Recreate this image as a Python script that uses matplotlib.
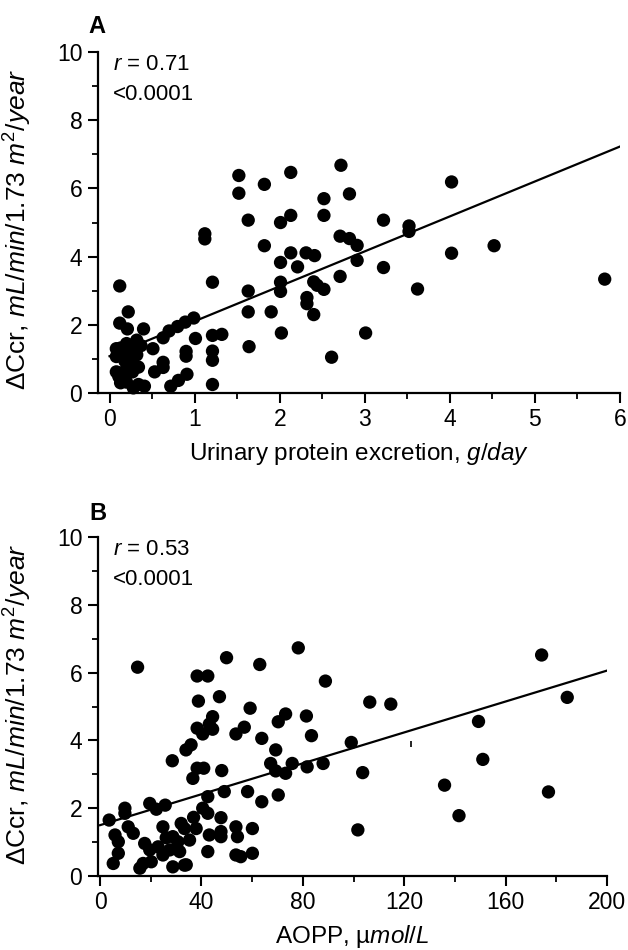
import numpy as np
import matplotlib.pyplot as plt
from matplotlib.ticker import MultipleLocator

plt.rcParams['font.family'] = ['Liberation Sans', 'DejaVu Sans']
plt.rcParams['mathtext.fontset'] = 'custom'
plt.rcParams['mathtext.rm'] = 'Liberation Sans'
plt.rcParams['mathtext.it'] = 'Liberation Sans:italic'

# =============================================================================
# DONNÉES - panneau A (protéinurie, g/jour)
# =============================================================================
prot_x = [1.52, 1.52, 1.82, 2.13, 2.72, 4.02,
          1.63, 2.01, 2.13, 2.52, 2.52, 2.82, 3.22,
          1.12, 1.12, 1.82, 2.71, 2.82, 2.91, 3.52, 3.52, 4.02, 4.52,
          2.01, 2.13, 2.31, 2.41, 2.21, 2.91, 3.22, 2.71,
          1.21, 0.12, 2.01, 2.40, 2.44, 2.52,
          1.63, 2.01, 3.62, 5.82,
          2.32, 2.32, 1.63, 1.90, 2.40,
          0.22, 0.12, 0.21, 0.40,
          2.02, 3.01, 1.64, 2.61,
          1.21, 1.32, 1.01, 0.63,
          0.70, 0.80, 0.89, 0.99,
          1.21, 1.21, 1.21,
          0.90, 0.90, 0.91, 0.81, 0.72, 0.63, 0.63, 0.53, 0.41, 0.34,
          0.08, 0.13, 0.08, 0.18, 0.27, 0.32, 0.08, 0.11, 0.13, 0.20,
          0.27, 0.23, 0.34, 0.18, 0.27, 0.37, 0.32, 0.51, 0.28, 0.20, 0.15]
prot_y = [6.38, 5.86, 6.12, 6.47, 6.68, 6.19,
          5.07, 5.00, 5.21, 5.70, 5.21, 5.84, 5.07,
          4.67, 4.52, 4.32, 4.60, 4.53, 4.33, 4.90, 4.74, 4.10, 4.32,
          3.83, 4.11, 4.11, 4.03, 3.70, 3.89, 3.68, 3.42,
          3.25, 3.14, 3.25, 3.26, 3.16, 3.04,
          2.99, 2.98, 3.05, 3.34,
          2.80, 2.62, 2.38, 2.38, 2.30,
          2.38, 2.05, 1.88, 1.88,
          1.76, 1.76, 1.36, 1.05,
          1.69, 1.72, 1.60, 1.62,
          1.82, 1.95, 2.08, 2.20,
          1.23, 0.96, 0.25,
          1.22, 1.08, 0.55, 0.37, 0.20, 0.90, 0.75, 0.62, 0.20, 0.25,
          1.30, 1.32, 1.07, 1.20, 1.26, 1.12, 0.62, 0.48, 0.30, 0.32,
          0.62, 0.85, 0.76, 0.94, 1.03, 1.39, 1.55, 1.30, 0.15, 1.45, 0.60]
fit_a = (1.08, 1.025)   # ordonnée, pente

# =============================================================================
# DONNÉES - panneau B (AOPP, µmol/L)
# =============================================================================
aopp_x = [3.6, 5.9, 7.2, 7.2, 5.2, 9.8, 9.8, 11.1, 13.1,
          14.8,
          15.7, 17.0, 20.2, 17.6, 19.6, 22.9, 26.1, 28.7, 30.7, 27.5, 24.8,
          19.6, 22.2, 25.7, 24.8,
          28.7, 33.3,
          28.5,
          32.0, 33.3, 35.3, 31.4, 34.0,
          36.9, 40.5, 42.5, 42.5,
          37.9, 43.1, 47.7, 47.7, 53.6, 54.2, 53.6, 55.5, 60.1, 60.1, 42.5,
          47.7, 49.0, 58.2, 63.8, 70.3,
          33.9, 35.9, 38.3, 40.9, 36.6, 48.0,
          38.3, 42.5, 47.1, 38.8, 49.9, 63.0, 78.2,
          59.2, 44.4, 43.1, 38.3, 40.5, 44.4,
          53.6, 56.9, 63.8, 70.3, 73.2,
          69.3, 67.3, 69.3, 73.2, 75.8,
          81.4, 88.9, 83.4, 81.7, 88.0, 99.1, 101.7, 103.6, 106.4, 114.7,
          135.9, 141.6, 149.3, 151.0, 174.2, 176.9, 184.3]
aopp_y = [1.65, 1.21, 1.01, 0.67, 0.37, 2.00, 1.85, 1.45, 1.26,
          6.16,
          0.23, 0.37, 0.42, 0.96, 0.77, 0.86, 1.13, 1.16, 1.01, 0.77, 0.62,
          2.14, 1.97, 2.09, 1.45,
          0.27, 0.32,
          3.40,
          1.55, 1.40, 1.06, 0.72, 0.33,
          1.73, 2.00, 1.85, 2.34,
          1.40, 1.21, 1.31, 1.16, 1.45, 1.16, 0.62, 0.57, 1.40, 0.67, 0.72,
          1.72, 2.49, 2.49, 2.19, 2.39,
          3.72, 3.87, 3.18, 3.18, 2.88, 3.11,
          5.90, 5.90, 5.29, 5.16, 6.44, 6.24, 6.73,
          4.95, 4.70, 4.48, 4.36, 4.19, 4.33,
          4.19, 4.39, 4.06, 4.55, 4.78,
          3.72, 3.32, 3.10, 3.03, 3.32,
          4.72, 5.75, 4.14, 3.22, 3.32, 3.94, 1.36, 3.05, 5.13, 5.07,
          2.68, 1.78, 4.56, 3.44, 6.52, 2.48, 5.27]
fit_b = (1.50, 0.0228)
speck_b = (122.8, 3.9)   # petite tache présente sur la figure d'origine

# =============================================================================
# FIGURE
# =============================================================================
fig = plt.figure(figsize=(6.28, 9.5), dpi=100)
ax_a = fig.add_axes([0.1553, 0.5863, 0.832, 0.3589])
ax_b = fig.add_axes([0.1553, 0.0779, 0.8113, 0.3568])

ylab = r'$\Delta$Ccr, $\mathit{mL/min/1.73\ m^2/year}$'


def style(ax):
    for side in ['top', 'right']:
        ax.spines[side].set_visible(False)
    for side in ['left', 'bottom']:
        ax.spines[side].set_linewidth(1.6)
    ax.tick_params(which='major', direction='out', length=7, width=1.5, labelsize=16.5, pad=4)
    ax.tick_params(which='minor', direction='out', length=4, width=1.3)
    ax.set_ylim(0, 10)
    ax.yaxis.set_major_locator(MultipleLocator(2))
    ax.yaxis.set_minor_locator(MultipleLocator(1))


# --- A ---
style(ax_a)
ax_a.scatter(prot_x, prot_y, s=92, color='black', edgecolors='none', zorder=3, clip_on=False)
xl = np.array([0, 6])
ax_a.plot(xl, fit_a[0] + fit_a[1] * xl, color='black', linewidth=1.6)
ax_a.set_xlim(-0.141, 6)
ax_a.xaxis.set_major_locator(MultipleLocator(1))
ax_a.xaxis.set_minor_locator(MultipleLocator(0.5))
ax_a.set_xlabel(r'Urinary protein excretion, $\mathit{g/day}$', fontsize=17.5, labelpad=6)
ax_a.set_ylabel(ylab, fontsize=19)
ax_a.yaxis.set_label_coords(-0.1215, 0.479)

# --- B ---
style(ax_b)
ax_b.scatter(aopp_x, aopp_y, s=92, color='black', edgecolors='none', zorder=3, clip_on=False)
xl = np.array([0, 200])
ax_b.plot(xl, fit_b[0] + fit_b[1] * xl, color='black', linewidth=1.6)
ax_b.plot(speck_b[0], speck_b[1], marker='|', markersize=4, color='black', markeredgewidth=1.2)
ax_b.set_xlim(-1, 200)
ax_b.xaxis.set_major_locator(MultipleLocator(40))
ax_b.xaxis.set_minor_locator(MultipleLocator(20))
ax_b.set_xlabel('AOPP, \u00b5' + r'$\mathit{mol/L}$', fontsize=17.5, labelpad=6)
ax_b.set_ylabel(ylab, fontsize=19)
ax_b.yaxis.set_label_coords(-0.1246, 0.507)

# --- textes ---
fig.text(0.1545, 0.9716, 'A', fontsize=17, fontweight='bold', ha='center', va='center')
fig.text(0.1566, 0.460, 'B', fontsize=17, fontweight='bold', ha='center', va='center')
fig.text(0.18, 0.9326, r'$\mathit{r}$ = 0.71', fontsize=16, va='center')
fig.text(0.18, 0.9010, '<0.0001', fontsize=16, va='center')
fig.text(0.18, 0.4221, r'$\mathit{r}$ = 0.53', fontsize=16, va='center')
fig.text(0.18, 0.3895, '<0.0001', fontsize=16, va='center')

fig.savefig('out.png', dpi=100)
